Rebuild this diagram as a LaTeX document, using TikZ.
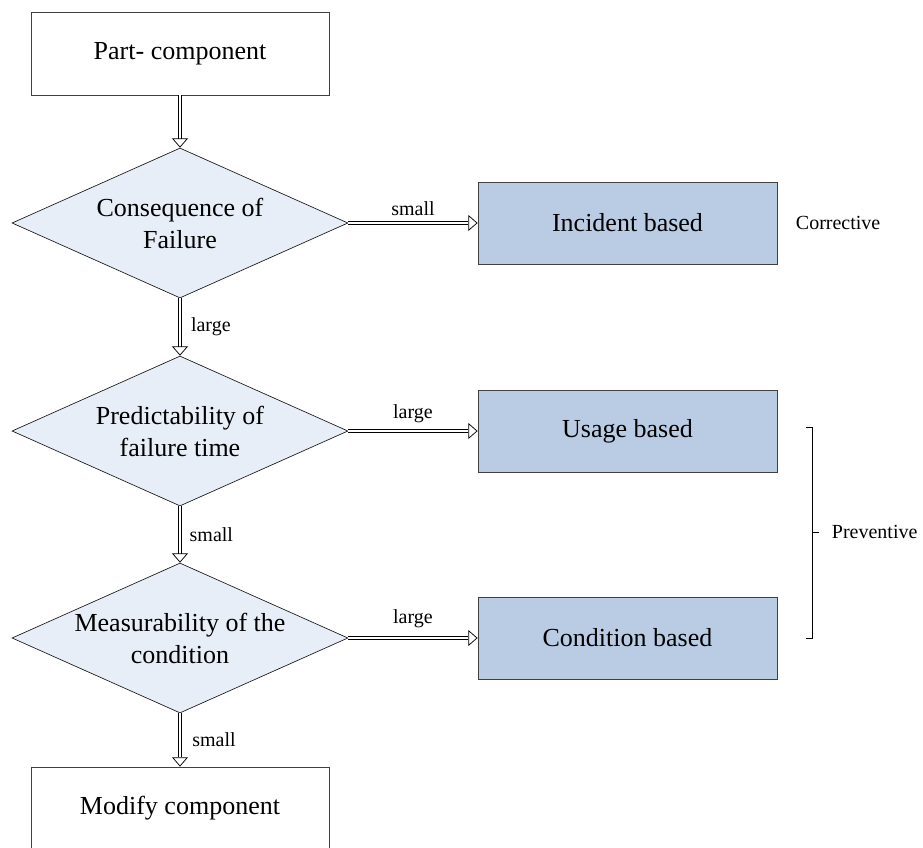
\documentclass[tikz,border=0pt]{standalone}
\usepackage{fontspec}
\setmainfont{Liberation Serif}
\usetikzlibrary{shapes.geometric,arrows.meta}

\definecolor{diafill}{RGB}{232,238,247}
\definecolor{boxfill}{RGB}{185,204,228}

\tikzset{
  bigtext/.style={font=\fontsize{19.5}{24}\selectfont},
  plainbox/.style={bigtext, draw=black!75, fill=white, line width=0.6pt,
    minimum width=223.5pt, minimum height=62.25pt},
  strategy/.style={bigtext, draw=black!75, fill=boxfill, line width=0.6pt,
    minimum width=224.25pt, minimum height=61.5pt},
  decision/.style={bigtext, diamond, aspect=2.24, draw=black!90, fill=diafill,
    line width=0.5pt, inner sep=0pt, align=center,
    minimum width=252pt, minimum height=112.5pt},
  flow/.style={double, double distance=2.2pt, line width=0.55pt,
    -{Triangle[open,width=12pt,length=7pt]}},
  lbl/.style={font=\fontsize{15}{18}\selectfont, inner sep=2pt}
}

\begin{document}
\begin{tikzpicture}[x=0.75pt,y=-0.75pt]
    \useasboundingbox (0,0) rectangle (923,848);
    \clip (0,0) rectangle (923,848);

    % left column
    \node[plainbox] (part) at (180,53.5) {Part- component};
    \node[decision] (conseq) at (180,223) {Consequence of\\Failure};
    \node[decision] (predict) at (180,431) {Predictability of\\failure time};
    \node[decision] (measure) at (180,638) {Measurability of the\\condition};
    \node[plainbox] (modify) at (180,808.5) {Modify component};

    % right column
    \node[strategy] (incident) at (627.5,223) {Incident based};
    \node[strategy] (usage) at (627.5,431) {Usage based};
    \node[strategy] (condition) at (627.5,638) {Condition based};

    % flow
    \draw[flow] (part) -- (conseq);
    \draw[flow] (conseq) -- node[lbl, right=6pt] (l1) {large} (predict);
    \draw[flow] (predict) -- node[lbl, right=5pt] (l2) {small} (measure);
    \draw[flow] (measure) -- node[lbl, right=7pt] (l3) {small} (modify);
    \draw[flow] (conseq.east) -- node[lbl, above=3pt] (l4) {small} (incident.west);
    \draw[flow] (predict.east) -- node[lbl, above=4pt] (l5) {large} (usage.west);
    \draw[flow] (measure.east) -- node[lbl, above=5pt] (l6) {large} (condition.west);

    % maintenance types
    \node[lbl, anchor=west] (corr) at (793,223) {Corrective};
    \coordinate (btop) at (806,427);
    \coordinate (bbot) at (806,638);
    \coordinate (bmid) at (812,532);
    \draw[line width=0.6pt] (btop) -- ++(6,0) |- (bbot);
    \draw[line width=0.6pt] (bmid) -- ++(7,0) coordinate (btick);
    \node[lbl, anchor=west] (prev) at (829,532) {Preventive};
\end{tikzpicture}
\end{document}
